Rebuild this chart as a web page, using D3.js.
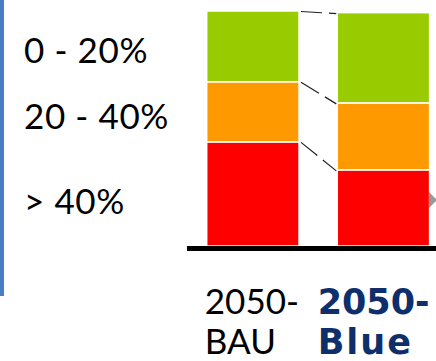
<!DOCTYPE html>
<html><head><meta charset="utf-8">
<script src="https://cdn.jsdelivr.net/npm/d3@7"></script>
<style>html,body{margin:0;padding:0;background:#fff;}svg{display:block;}</style>
</head><body>
<svg id="c" width="436" height="361"></svg>
<script>
const categories = ["2050-BAU", "2050-Blue"];
const catLine1 = ["2050-", "2050-"];
const catLine2 = ["BAU", "Blue"];
const bands = ["> 40%", "20 - 40%", "0 - 20%"];
const redVals = [44.3, 32.4];
const orangeVals = [25.6, 28.5];
const greenVals = [30.1, 38.4];
const bandColors = ["#ff0000", "#ff9900", "#99cc00"];

const svg = d3.select("#c");
const font = "Lato, 'Open Sans', sans-serif";
const boldFont = "'DejaVu Sans', Lato, sans-serif";

// left accent line
svg.append("rect").attr("x",0).attr("y",0).attr("width",4).attr("height",296).attr("fill","#4a7ec2");

const x = d3.scaleBand().domain(categories).range([206.7, 429.6]).paddingInner(0.293).paddingOuter(0);
const bw = x.bandwidth();
const y = d3.scaleLinear().domain([0,100]).range([246, 11]);

const rows = categories.map((c,i)=>({cat:c, "> 40%":redVals[i], "20 - 40%":orangeVals[i], "0 - 20%":greenVals[i]}));
const stacked = d3.stack().keys(bands)(rows);

const g = svg.append("g");
stacked.forEach((layer,li)=>{
  g.selectAll(null).data(layer).enter().append("rect")
    .attr("x",d=>x(d.data.cat))
    .attr("width", bw)
    .attr("y",d=>y(d[1]))
    .attr("height",d=>y(d[0])-y(d[1]))
    .attr("fill",bandColors[li])
    .attr("stroke","#fff").attr("stroke-width",1.5);
});

// dashed connectors between bar tops of each layer
stacked.forEach(layer=>{
  const a = layer[0], b = layer[1];
  svg.append("line")
    .attr("x1", x(a.data.cat)+bw+2).attr("y1", y(a[1])+0.5)
    .attr("x2", x(b.data.cat)-1).attr("y2", y(b[1])+1)
    .attr("stroke","#222").attr("stroke-width",1.2)
    .attr("stroke-dasharray","21,7");
});

// baseline
svg.append("rect").attr("x",187).attr("y",y(0)).attr("width",249).attr("height",5).attr("fill","#000");

// gray triangle
svg.append("path").attr("d","M429,192 L437,200 L429,208 Z").attr("fill","#999");

// legend band labels
const labelY = {"0 - 20%":62.5, "20 - 40%":128.5, "> 40%":213.5};
bands.forEach(b=>{
  svg.append("text").attr("x",24).attr("y",labelY[b])
    .attr("font-family",font).attr("font-size",35).attr("letter-spacing",0.6).attr("fill","#000").text(b);
});

// category labels
categories.forEach((c,i)=>{
  const right = x(c)+bw;
  const bold = i===1;
  const col = bold ? "#0e2f6b" : "#000";
  const ff = bold ? boldFont : font;
  const t1 = svg.append("text").attr("font-family",ff).attr("font-size",35)
    .attr("font-weight", bold?"bold":"normal").attr("fill",col).text(catLine1[i]);
  const w = t1.node().getComputedTextLength();
  const left = right - w;
  t1.attr("x",left).attr("y",313.5);
  svg.append("text").attr("font-family",ff).attr("font-size",35)
    .attr("font-weight", bold?"bold":"normal").attr("fill",col)
    .attr("letter-spacing", bold?2:0)
    .attr("x",left).attr("y",353.5).text(catLine2[i]);
});
</script>
</body></html>
